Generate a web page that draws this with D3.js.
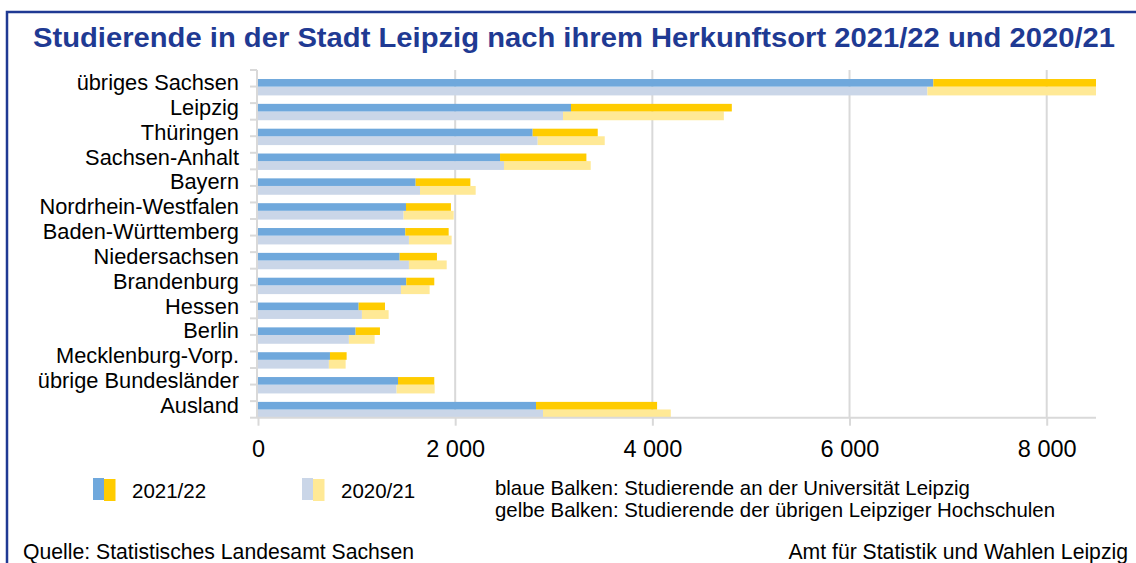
<!DOCTYPE html>
<html>
<head>
<meta charset="utf-8">
<script src="https://cdn.jsdelivr.net/npm/d3@7"></script>
<style>
  html, body { margin: 0; padding: 0; background: #fff; }
  svg { display: block; font-family: "Liberation Sans", Arial, sans-serif; }
</style>
</head>
<body>
<svg id="chart" width="1136" height="563"></svg>
<script>
// Data
const categories = [
  "übriges Sachsen", "Leipzig", "Thüringen", "Sachsen-Anhalt", "Bayern",
  "Nordrhein-Westfalen", "Baden-Württemberg", "Niedersachsen", "Brandenburg",
  "Hessen", "Berlin", "Mecklenburg-Vorp.", "übrige Bundesländer", "Ausland"
];
// Universität Leipzig (blue) and other Leipzig colleges (yellow)
const uni2122   = [6850, 3175, 2786, 2455, 1599, 1501, 1494, 1437, 1504, 1021, 990, 730, 1420, 2820];
const other2122 = [1700, 1631, 660, 876, 555, 456, 440, 378, 284, 267, 247, 169, 368, 1228];
const uni2021   = [6790, 3094, 2837, 2495, 1643, 1477, 1531, 1531, 1450, 1054, 922, 719, 1406, 2891];
const other2021 = [1780, 1631, 680, 880, 565, 508, 433, 383, 291, 271, 261, 170, 386, 1296];
const xTicks = [0, 2000, 4000, 6000, 8000];
const legendYears = ["2021/22", "2020/21"];
const noteLines = [
  "blaue Balken: Studierende an der Universität Leipzig",
  "gelbe Balken: Studierende der übrigen Leipziger Hochschulen"
];

const colors = {
  blue: "#6fa8dc", yellow: "#ffcc00",
  lightBlue: "#cad6e8", lightYellow: "#ffe996",
  frame: "#1f3a93", grid: "#d9d9d9"
};

const margin = { top: 70, right: 40, bottom: 145.3, left: 258 };
const width = 1136, height = 563;

const $svg = d3.select("#chart");

// Frame
$svg.append("rect")
  .attr("x", 7).attr("y", 12)
  .attr("width", 1200).attr("height", 700)
  .attr("fill", "none")
  .attr("stroke", colors.frame)
  .attr("stroke-width", 2.5);

// Title
$svg.append("text")
  .attr("x", 574).attr("y", 47)
  .attr("text-anchor", "middle")
  .attr("font-size", 27)
  .attr("font-weight", "bold")
  .attr("fill", colors.frame)
  .attr("textLength", 1082)
  .attr("lengthAdjust", "spacingAndGlyphs")
  .text("Studierende in der Stadt Leipzig nach ihrem Herkunftsort 2021/22 und 2020/21");

// Scales
const x = d3.scaleLinear()
  .domain([0, 8500])
  .range([margin.left, width - margin.right]);

const y = d3.scaleBand()
  .domain(categories)
  .range([margin.top, height - margin.bottom]);

const yBottom = height - margin.bottom;
const center = c => y(c) + y.bandwidth() / 2;

const locale = d3.formatLocale({ decimal: ",", thousands: " ", grouping: [3], currency: ["", " €"] });
const fmt = locale.format(",");

// Grid
$svg.append("g")
  .selectAll("line")
  .data(xTicks.slice(1))
  .join("line")
    .attr("x1", d => x(d)).attr("x2", d => x(d))
    .attr("y1", margin.top).attr("y2", yBottom)
    .attr("stroke", colors.grid)
    .attr("stroke-width", 2);

// Bars
$svg.append("clipPath").attr("id", "plot-clip")
  .append("rect")
    .attr("x", margin.left).attr("y", margin.top)
    .attr("width", x(8500) - margin.left).attr("height", yBottom - margin.top);

const $bars = $svg.append("g").attr("clip-path", "url(#plot-clip)");

const rows = categories.map((c, i) => ({
  c,
  u1: uni2122[i], o1: other2122[i],
  u0: uni2021[i], o0: other2021[i]
}));

const barTop1 = -3.4, barH1 = 7.6;   // 2021/22
const barTop0 = 4.2, barH0 = 8.8;    // 2020/21

function drawStack(cls, top, h, uniKey, otherKey, cUni, cOther) {
  $bars.selectAll("rect." + cls + "-u")
    .data(rows)
    .join("rect")
      .attr("class", cls + "-u")
      .attr("x", x(0))
      .attr("y", d => center(d.c) + top)
      .attr("width", d => x(d[uniKey]) - x(0))
      .attr("height", h)
      .attr("fill", cUni);
  $bars.selectAll("rect." + cls + "-o")
    .data(rows)
    .join("rect")
      .attr("class", cls + "-o")
      .attr("x", d => x(d[uniKey]))
      .attr("y", d => center(d.c) + top)
      .attr("width", d => x(d[uniKey] + d[otherKey]) - x(d[uniKey]))
      .attr("height", h)
      .attr("fill", cOther);
}
drawStack("y0", barTop0, barH0, "u0", "o0", colors.lightBlue, colors.lightYellow);
drawStack("y1", barTop1, barH1, "u1", "o1", colors.blue, colors.yellow);

// X axis
const xAxis = d3.axisBottom(x)
  .tickValues(xTicks)
  .tickFormat(fmt)
  .tickSize(8)
  .tickSizeOuter(0)
  .tickPadding(15);

const $xAxis = $svg.append("g")
  .attr("transform", `translate(0,${yBottom})`)
  .call(xAxis);
$xAxis.select(".domain")
  .attr("stroke", colors.grid).attr("stroke-width", 2)
  .attr("d", `M${margin.left - 1},0H${x(8500)}`);
$xAxis.selectAll(".tick line").attr("stroke", colors.grid).attr("stroke-width", 2);
$xAxis.selectAll(".tick text")
  .attr("font-size", 23.5)
  .attr("font-family", "Liberation Sans, Arial, sans-serif")
  .attr("fill", "#000");

// Y axis line + minor tick marks
const $yAxis = $svg.append("g");
$yAxis.append("line")
  .attr("x1", margin.left - 1).attr("x2", margin.left - 1)
  .attr("y1", margin.top).attr("y2", yBottom)
  .attr("stroke", colors.grid).attr("stroke-width", 2);
const yTickScale = d3.scaleLinear().domain([0, 21]).range([margin.top, yBottom]);
$yAxis.selectAll("line.tick")
  .data(d3.range(22))
  .join("line")
    .attr("class", "tick")
    .attr("x1", margin.left - 8).attr("x2", margin.left - 1)
    .attr("y1", d => yTickScale(d)).attr("y2", d => yTickScale(d))
    .attr("stroke", colors.grid).attr("stroke-width", 2);

// Category labels
$svg.append("g")
  .selectAll("text")
  .data(categories)
  .join("text")
    .attr("x", 239)
    .attr("y", d => center(d))
    .attr("dy", "0.35em")
    .attr("text-anchor", "end")
    .attr("font-size", 21.8)
    .attr("fill", "#000")
    .text(d => d);

// Legend
const legendItems = [
  { label: legendYears[0], x: 93, colorsL: [colors.blue, colors.yellow] },
  { label: legendYears[1], x: 302, colorsL: [colors.lightBlue, colors.lightYellow] }
];
const $legend = $svg.append("g");
legendItems.forEach(item => {
  $legend.append("rect")
    .attr("x", item.x).attr("y", 478)
    .attr("width", 11).attr("height", 22)
    .attr("fill", item.colorsL[0]);
  $legend.append("rect")
    .attr("x", item.x + 11).attr("y", 479)
    .attr("width", 11.5).attr("height", 22)
    .attr("fill", item.colorsL[1]);
  $legend.append("text")
    .attr("x", item.x + 39).attr("y", 498)
    .attr("font-size", 20.5)
    .attr("fill", "#000")
    .text(item.label);
});

$svg.append("g")
  .selectAll("text")
  .data(noteLines)
  .join("text")
    .attr("x", 495)
    .attr("y", (d, i) => 495 + i * 22)
    .attr("font-size", 20.4)
    .attr("fill", "#000")
    .text(d => d);

// Footer
$svg.append("text")
  .attr("x", 23).attr("y", 559)
  .attr("font-size", 21.2)
  .attr("fill", "#000")
  .text("Quelle: Statistisches Landesamt Sachsen");
$svg.append("text")
  .attr("x", 1128).attr("y", 559)
  .attr("text-anchor", "end")
  .attr("font-size", 21.2)
  .attr("fill", "#000")
  .text("Amt für Statistik und Wahlen Leipzig");
</script>
</body>
</html>
